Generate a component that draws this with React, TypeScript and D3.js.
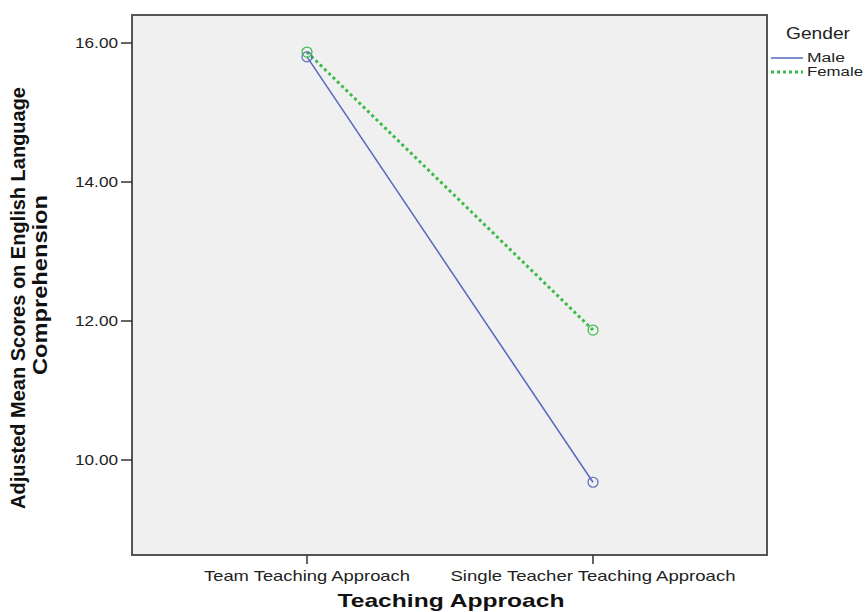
import React from "react";
import * as d3 from "d3";

const categories = ["Team Teaching Approach", "Single Teacher Teaching Approach"];
const maleValues = [15.8, 9.68];
const femaleValues = [15.87, 11.87];
const yTicks = [10, 12, 14, 16];
const seriesNames = ["Male", "Female"];

export default function App() {
  const W = 865, H = 612;
  const left = 132, right = 767, top = 15, bottom = 555;
  const y = d3.scaleLinear().domain([8.633, 16.403]).range([bottom, top]);
  const x = d3.scalePoint<string>().domain(categories).range([307, 593]);
  const line = d3.line<number>().x((_, i) => x(categories[i])!).y((d) => y(d));
  const maleColor = "#5468c0";
  const femaleColor = "#3dbb4a";
  const font = "'Liberation Sans', Arial, sans-serif";
  const catLen = [206, 285];
  const legLen = [38, 56];
  const adj = "spacingAndGlyphs";
  return (
    <svg width={W} height={H} style={{ position: "absolute", left: 0, top: 0 }} fontFamily={font}>
      <rect x={0} y={0} width={W} height={H} fill="#fff" />
      <rect x={left} y={top} width={right - left} height={bottom - top} fill="#f0f0f0" stroke="#555" strokeWidth={2} />
      {yTicks.map((t) => (
        <g key={t}>
          <line x1={left - 11} x2={left} y1={y(t)} y2={y(t)} stroke="#333" strokeWidth={1.5} />
          <text x={118} y={y(t)} dy="0.36em" textAnchor="end" fontSize={15} fill="#222"
            textLength={43} lengthAdjust={adj}>
            {d3.format(".2f")(t)}
          </text>
        </g>
      ))}
      {categories.map((c, i) => (
        <g key={c}>
          <line x1={x(c)} x2={x(c)} y1={bottom} y2={bottom + 9} stroke="#333" strokeWidth={1.5} />
          <text x={x(c)} y={581} textAnchor="middle" fontSize={15} fill="#222"
            textLength={catLen[i]} lengthAdjust={adj}>{c}</text>
        </g>
      ))}
      <text x={451} y={607} textAnchor="middle" fontSize={19} fontWeight="bold" fill="#111"
        textLength={227} lengthAdjust={adj}>
        Teaching Approach
      </text>
      <g transform={`translate(25, 298) rotate(-90)`}>
        <text x={0} y={0} textAnchor="middle" fontSize={20} fontWeight="bold" fill="#111"
          textLength={422} lengthAdjust={adj}>
          Adjusted Mean Scores on English Language
        </text>
      </g>
      <g transform={`translate(47, 285) rotate(-90)`}>
        <text x={0} y={0} textAnchor="middle" fontSize={20} fontWeight="bold" fill="#111"
          textLength={180} lengthAdjust={adj}>
          Comprehension
        </text>
      </g>
      <path d={line(maleValues)!} fill="none" stroke={maleColor} strokeWidth={1.5} />
      <path d={line(femaleValues)!} fill="none" stroke={femaleColor} strokeWidth={3} strokeDasharray="3,3" />
      {maleValues.map((v, i) => (
        <circle key={"m" + i} cx={x(categories[i])} cy={y(v)} r={5} fill="none" stroke={maleColor} strokeWidth={1.2} />
      ))}
      {femaleValues.map((v, i) => (
        <circle key={"f" + i} cx={x(categories[i])} cy={y(v)} r={5} fill="none" stroke={femaleColor} strokeWidth={1.2} />
      ))}
      <text x={786} y={39} fontSize={16} fill="#222" textLength={64} lengthAdjust={adj}>Gender</text>
      {seriesNames.map((s, i) => (
        <g key={s}>
          <line x1={771} x2={803} y1={58 + i * 14} y2={58 + i * 14}
            stroke={i === 0 ? maleColor : femaleColor} strokeWidth={i === 0 ? 1.5 : 3}
            strokeDasharray={i === 0 ? undefined : "3,3"} />
          <text x={807} y={58 + i * 14} dy="0.35em" fontSize={12} fill="#222"
            textLength={legLen[i]} lengthAdjust={adj}>{s}</text>
        </g>
      ))}
    </svg>
  );
}
